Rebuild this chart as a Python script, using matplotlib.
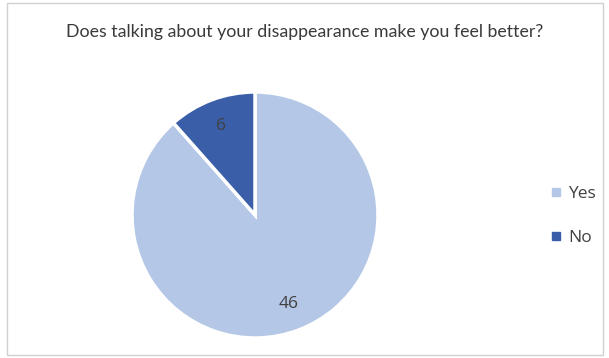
import matplotlib
matplotlib.use('Agg')
import matplotlib.pyplot as plt
from matplotlib.lines import Line2D
from matplotlib.patches import Rectangle

labels = ['Yes', 'No']
counts = [46, 6]
colors = ['#b4c7e7', '#3a5ea8']
title = 'Does talking about your disappearance make you feel better?'

W, H = 609, 358
fig = plt.figure(figsize=(W / 100, H / 100), dpi=100)

# chart frame
fig.patches.append(Rectangle((7 / W, 3 / H), (603 - 7) / W, (355 - 3) / H,
                             transform=fig.transFigure, fill=False,
                             edgecolor='#d0d0d0', linewidth=1.0))

cx, cy, r = 255, 215, 123
ax = fig.add_axes([(cx - r) / W, (H - cy - r) / H, 2 * r / W, 2 * r / H])

wedges, texts, autotexts = ax.pie(
    counts, colors=colors, startangle=90, counterclock=False,
    autopct=lambda p: '{:.0f}'.format(p * sum(counts) / 100),
    pctdistance=0.77,
    wedgeprops={'edgecolor': 'white', 'linewidth': 2.5},
    textprops={'fontsize': 12.5, 'color': '#404040', 'family': 'Open Sans'})
ax.set_xlim(-1.0, 1.0)
ax.set_ylim(-1.0, 1.0)
ax.set_aspect('equal')
for w in wedges:
    w.set_clip_on(False)

fig.text(0.5, 1 - 32 / H, title, ha='center', va='center',
         fontsize=12.8, color='#3a3a3a', family='Lato')

handles = [Line2D([], [], marker='s', linestyle='', markersize=6,
                  markerfacecolor=c, markeredgecolor=c) for c in colors]
leg = fig.legend(handles, labels, loc='center left',
                 bbox_to_anchor=(532 / W, 1 - 216 / H), frameon=False,
                 prop={'family': 'Open Sans', 'size': 12.5},
                 labelspacing=1.6, handletextpad=0.2, handlelength=1.0)
for t in leg.get_texts():
    t.set_color('#404040')

fig.savefig('out.png', dpi=100)
